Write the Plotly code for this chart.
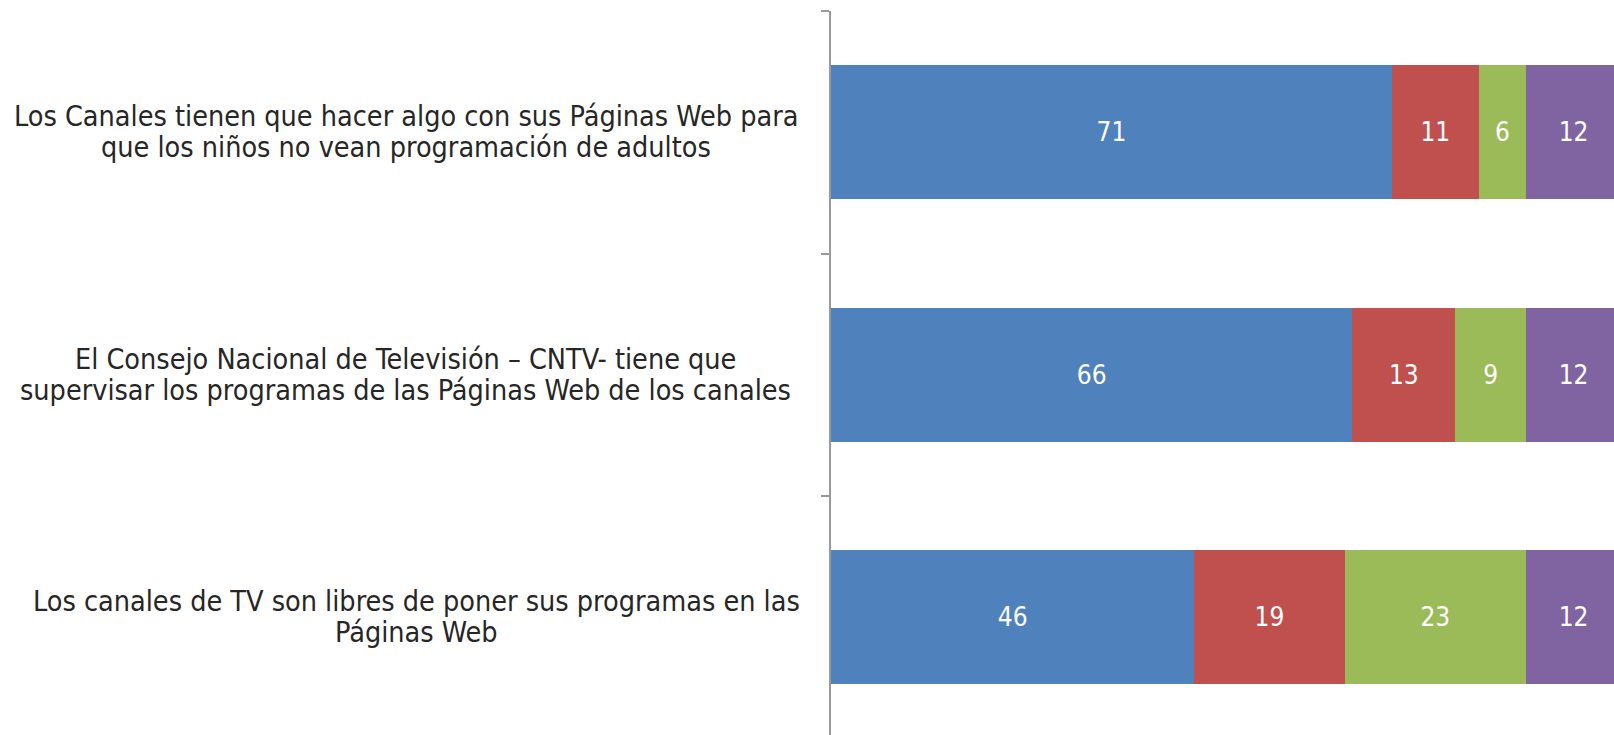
import plotly.graph_objects as go

cat_ids = ["c1", "c2", "c3"]
label_lines = [
    ["Los Canales tienen que hacer algo con sus Páginas Web para",
     "que los niños no vean programación de adultos"],
    ["El Consejo Nacional de Televisión – CNTV- tiene que",
     "supervisar los programas de las Páginas Web de los canales"],
    ["Los canales de TV son libres de poner sus programas en las",
     "Páginas Web"],
]
serie_1 = [71, 66, 46]
serie_2 = [11, 13, 19]
serie_3 = [6, 9, 23]
serie_4 = [12, 12, 12]
series = [serie_1, serie_2, serie_3, serie_4]
colors = ["#4F81BD", "#C0504D", "#9BBB59", "#8064A2"]

FONT = "DejaVu Sans Condensed, DejaVu Sans, sans-serif"

W, H = 1614, 735
ML, MT = 831, 11
PW = W - ML

fig = go.Figure()
for vals, col in zip(series, colors):
    fig.add_trace(go.Bar(
        y=cat_ids, x=vals, orientation="h",
        marker=dict(color=col, line=dict(width=0)),
        text=[str(v) for v in vals], textposition="inside",
        insidetextanchor="middle", textangle=0, constraintext="none",
        textfont=dict(color="white", size=26, family=FONT),
        hoverinfo="skip",
    ))

# centre (px) of each label block
row_centres = [405.5, 405.5, 416]
for cid, lines, cx in zip(cat_ids, label_lines, row_centres):
    n = len(lines)
    for i, line in enumerate(lines):
        fig.add_annotation(
            x=(cx - ML) / PW, xref="paper", y=cid, yref="y",
            xanchor="center", yanchor="middle",
            yshift=(n - 1) / 2 * 31 - i * 31,
            text=line, showarrow=False,
            font=dict(size=28.5, family=FONT, color="#262626"),
        )

fig.update_layout(
    width=W, height=H,
    margin=dict(l=ML, r=0, t=MT, b=0),
    barmode="stack", bargap=0.447,
    showlegend=False,
    plot_bgcolor="white", paper_bgcolor="white",
    xaxis=dict(range=[0, PW / 7.9], visible=False, fixedrange=True),
    yaxis=dict(
        type="category", categoryorder="array", categoryarray=cat_ids,
        range=[-0.5 + (H - MT) / 242.5, -0.5], showticklabels=False,
        ticks="outside", ticklen=8, tickwidth=2, tickcolor="#9A9A9A",
        tickson="boundaries", showline=True, linecolor="#9A9A9A", linewidth=2,
        showgrid=False, zeroline=False, fixedrange=True,
    ),
)

fig.write_html(
    "out.html",
    config={"displayModeBar": False, "staticPlot": True},
    post_script="document.body.style.margin='0';document.body.style.overflow='hidden';",
)
